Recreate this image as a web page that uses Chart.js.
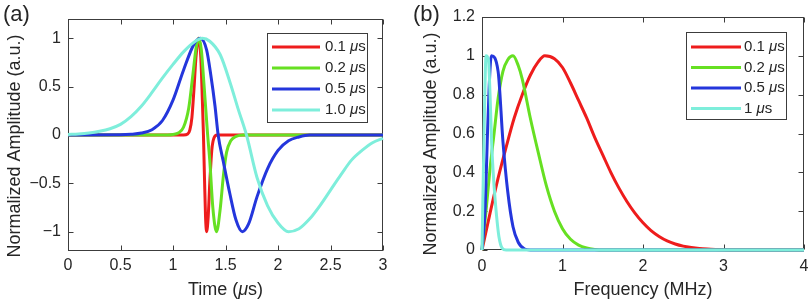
<!DOCTYPE html>
<html>
<head>
<meta charset="utf-8">
<script src="https://cdn.jsdelivr.net/npm/chart.js@4.4.1/dist/chart.umd.min.js"></script>
<style>
html, body { margin: 0; padding: 0; background: #fff; }
#wrap { position: relative; width: 812px; height: 302px; }
#wrap canvas { position: absolute; top: 0; }
</style>
</head>
<body>
<div id="wrap">
  <canvas id="timeChart" width="406" height="302" style="left:0"></canvas>
  <canvas id="freqChart" width="406" height="302" style="left:406px"></canvas>
</div>
<script>
// legend labels and line colours (same order in both panels)
const timeLabels = ["0.1 μs", "0.2 μs", "0.5 μs", "1.0 μs"];
const freqLabels = ["0.1 μs", "0.2 μs", "0.5 μs", "1 μs"];
const lineColors = ["#ee1c1c", "#66e022", "#2436dc", "#7eeedb"];

// tick values
const timeTicks = [0, 0.5, 1, 1.5, 2, 2.5, 3];
const ampTicks = [-1, -0.5, 0, 0.5, 1];
const freqTicks = [0, 1, 2, 3, 4];
const specTicks = [0, 0.2, 0.4, 0.6, 0.8, 1, 1.2];

// (a) time traces (time in us, normalized amplitude)
const tRed = [0, 1.10, 1.14, 1.16, 1.18, 1.20, 1.22, 1.245, 1.265, 1.28, 1.29, 1.30, 1.31, 1.32, 1.335, 1.35, 1.37, 1.39, 1.42, 3.0];
const aRed = [0, 0, 0.01, 0.05, 0.18, 0.48, 0.82, 1.0, 0.8, 0.35, 0.0, -0.45, -0.85, -1.0, -0.85, -0.5, -0.15, -0.03, 0, 0];

const tGreen = [0, 0.95, 1.0, 1.05, 1.1, 1.15, 1.19, 1.22, 1.245, 1.27, 1.29, 1.31, 1.33, 1.35, 1.38, 1.415, 1.45, 1.48, 1.51, 1.55, 1.6, 1.67, 3.0];
const aGreen = [0, 0, 0.005, 0.02, 0.08, 0.28, 0.63, 0.9, 1.0, 0.88, 0.6, 0.3, 0.0, -0.26, -0.76, -1.0, -0.76, -0.42, -0.18, -0.06, -0.015, 0, 0];

const tBlue = [0, 0.5, 0.6, 0.7, 0.8, 0.9, 1.0, 1.1, 1.2, 1.26, 1.32, 1.36, 1.40, 1.43, 1.48, 1.54, 1.6, 1.66, 1.72, 1.8, 1.9, 2.0, 2.1, 2.2, 2.3, 3.0];
const aBlue = [0, 0.002, 0.007, 0.02, 0.055, 0.15, 0.36, 0.67, 0.94, 1.0, 0.88, 0.62, 0.3, 0.0, -0.28, -0.6, -0.88, -1.0, -0.92, -0.64, -0.35, -0.16, -0.06, -0.02, 0, 0];

const tCyan = [0, 0.1, 0.2, 0.3, 0.4, 0.5, 0.6, 0.7, 0.8, 0.9, 1.0, 1.1, 1.2, 1.28, 1.35, 1.45, 1.55, 1.62, 1.70, 1.8, 1.9, 2.0, 2.1, 2.2, 2.3, 2.4, 2.5, 2.6, 2.7, 2.8, 2.9, 3.0];
const aCyan = [0.005, 0.01, 0.02, 0.038, 0.065, 0.11, 0.19, 0.3, 0.44, 0.59, 0.73, 0.86, 0.96, 1.0, 0.97, 0.83, 0.52, 0.27, 0.0, -0.44, -0.73, -0.91, -1.0, -0.97, -0.87, -0.73, -0.57, -0.41, -0.26, -0.16, -0.08, -0.035];

// (b) spectra (frequency in MHz, normalized amplitude)
const fRed = [0, 0.1, 0.2, 0.3, 0.4, 0.5, 0.6, 0.7, 0.78, 0.9, 1.0, 1.1, 1.2, 1.3, 1.4, 1.5, 1.6, 1.7, 1.8, 1.9, 2.0, 2.1, 2.2, 2.3, 2.4, 2.5, 2.6, 2.7, 2.8, 2.9, 3.0, 3.2, 4];
const sRed = [0, 0.19, 0.37, 0.53, 0.68, 0.8, 0.9, 0.97, 1.0, 0.985, 0.94, 0.86, 0.77, 0.68, 0.58, 0.49, 0.4, 0.32, 0.25, 0.19, 0.14, 0.1, 0.07, 0.047, 0.031, 0.02, 0.013, 0.008, 0.005, 0.003, 0.0015, 0, 0];

const fGreen = [0, 0.05, 0.1, 0.15, 0.2, 0.26, 0.32, 0.385, 0.45, 0.5, 0.6, 0.7, 0.8, 0.9, 1.0, 1.1, 1.2, 1.3, 1.4, 1.5, 4];
const sGreen = [0, 0.2, 0.42, 0.6, 0.78, 0.92, 0.98, 1.0, 0.95, 0.88, 0.68, 0.5, 0.33, 0.2, 0.11, 0.055, 0.025, 0.01, 0.003, 0, 0];

const fBlue = [0, 0.04, 0.065, 0.09, 0.116, 0.2, 0.26, 0.32, 0.385, 0.45, 0.53, 0.6, 4];
const sBlue = [0, 0.22, 0.56, 0.85, 1.0, 0.92, 0.56, 0.3, 0.12, 0.04, 0.005, 0, 0];

const fCyan = [0, 0.03, 0.05, 0.08, 0.1, 0.12, 0.15, 0.18, 0.21, 0.25, 0.3, 4];
const sCyan = [0, 0.7, 1.0, 0.98, 0.8, 0.55, 0.33, 0.18, 0.07, 0.01, 0, 0];

const FONT = "'Liberation Sans', Arial, Helvetica, sans-serif";
const TEXT = "#262626";
const AXIS = "#3c3c3c";

const pts = (xs, ys) => xs.map((x, i) => ({x: x, y: ys[i]}));
const fmt = v => String(+v.toFixed(2)).replace("-", "−");

// text with an italic mu
function richText(ctx, str, x, y, size, align) {
    const normal = size + "px " + FONT;
    const italic = "italic " + normal;
    const segs = [];
    str.split("μ").forEach((p, i) => {
        if (i > 0) segs.push(["μ", italic]);
        if (p) segs.push([p, normal]);
    });
    let total = 0;
    segs.forEach(s => {
        ctx.font = s[1];
        s.push(ctx.measureText(s[0]).width);
        total += s[2];
    });
    let cx = align === "center" ? x - total / 2 : (align === "right" ? x - total : x);
    ctx.textAlign = "left";
    segs.forEach(s => {
        ctx.font = s[1];
        ctx.fillText(s[0], cx, y);
        cx += s[2];
    });
}

// MATLAB-style box, inward ticks, tick labels, titles and legend
const matlabLook = {
    id: "matlabLook",
    beforeDatasetsDraw(chart, args, opts) {
        const {ctx, chartArea: a, scales: {x, y}} = chart;
        ctx.save();
        ctx.strokeStyle = AXIS;
        ctx.lineWidth = 1;
        const l = Math.round(a.left) + 0.5, r = Math.round(a.right) - 0.5;
        const t = Math.round(a.top) + 0.5, b = Math.round(a.bottom) - 0.5;
        ctx.strokeRect(l, t, r - l, b - t);
        ctx.beginPath();
        x.ticks.forEach(tk => {
            const px = Math.round(x.getPixelForValue(tk.value)) + 0.5;
            ctx.moveTo(px, b); ctx.lineTo(px, b - 5);
            ctx.moveTo(px, t); ctx.lineTo(px, t + 5);
        });
        y.ticks.forEach(tk => {
            const py = Math.round(y.getPixelForValue(tk.value)) + 0.5;
            ctx.moveTo(l, py); ctx.lineTo(l + 5, py);
            ctx.moveTo(r, py); ctx.lineTo(r - 5, py);
        });
        ctx.stroke();

        // tick labels
        ctx.fillStyle = TEXT;
        ctx.font = "16px " + FONT;
        ctx.textBaseline = "middle";
        ctx.textAlign = "center";
        x.ticks.forEach(tk => ctx.fillText(fmt(tk.value), x.getPixelForValue(tk.value), opts.xLabelY));
        ctx.textAlign = "right";
        y.ticks.forEach(tk => ctx.fillText(fmt(tk.value), a.left - 7, y.getPixelForValue(tk.value)));
        ctx.restore();
    },
    afterDraw(chart, args, opts) {
        const {ctx, chartArea: a} = chart;
        ctx.save();
        ctx.fillStyle = TEXT;
        ctx.textBaseline = "middle";

        // panel letter
        ctx.font = "22px " + FONT;
        ctx.textAlign = "left";
        ctx.fillText(opts.panel, opts.panelX, 15);

        // axis titles
        richText(ctx, opts.xTitle, (a.left + a.right) / 2, 290, 18, "center");
        ctx.save();
        ctx.translate(opts.yTitleX, opts.yTitleY);
        ctx.rotate(-Math.PI / 2);
        richText(ctx, opts.yTitle, 0, 0, 18, "center");
        ctx.restore();

        // legend box
        const L = opts.legend;
        ctx.fillStyle = "#fff";
        ctx.fillRect(L.x, L.y, L.w, L.h);
        ctx.strokeStyle = AXIS;
        ctx.lineWidth = 1;
        ctx.strokeRect(L.x + 0.5, L.y + 0.5, L.w, L.h);
        chart.data.datasets.forEach((ds, i) => {
            const ry = L.y + L.first + i * L.step;
            ctx.strokeStyle = ds.borderColor;
            ctx.lineWidth = 3;
            ctx.beginPath();
            ctx.moveTo(L.x + 5, ry);
            ctx.lineTo(L.x + L.lineLen, ry);
            ctx.stroke();
            ctx.fillStyle = TEXT;
            richText(ctx, ds.label, L.x + L.textAt, ry, 15, "left");
        });
        ctx.restore();
    }
};

function makeDatasets(labels, series) {
    return series.map((data, i) => ({
        label: labels[i],
        data: data,
        borderColor: lineColors[i],
        borderWidth: 3,
        pointRadius: 0,
        fill: false,
        cubicInterpolationMode: "monotone",
        clip: 4,
        order: series.length - i
    }));
}

function axis(min, max, tickList, afterFit) {
    return {
        type: "linear",
        min: min,
        max: max,
        afterBuildTicks: scale => { scale.ticks = tickList.map(v => ({value: v})); },
        afterFit: afterFit,
        grid: {display: false},
        border: {display: false},
        ticks: {display: false}
    };
}

new Chart(document.getElementById("timeChart"), {
    type: "line",
    data: {
        datasets: makeDatasets(timeLabels, [
            pts(tRed, aRed), pts(tGreen, aGreen), pts(tBlue, aBlue), pts(tCyan, aCyan)
        ])
    },
    options: {
        responsive: false,
        animation: false,
        events: [],
        layout: {padding: {left: 0, top: 19, right: 23, bottom: 0}},
        scales: {
            x: axis(0, 3, timeTicks, s => { s.height = 51; }),
            y: axis(-1.2, 1.2, ampTicks, s => { s.width = 68; })
        },
        plugins: {
            legend: {display: false},
            tooltip: {enabled: false},
            matlabLook: {
                panel: "(a)", panelX: 3,
                xTitle: "Time (μs)",
                yTitle: "Normalized Amplitude (a.u.)",
                yTitleX: 15, yTitleY: 146,
                xLabelY: 266,
                legend: {x: 267, y: 33, w: 100, h: 89, first: 14, step: 21, lineLen: 53, textAt: 58}
            }
        }
    },
    plugins: [matlabLook]
});

new Chart(document.getElementById("freqChart"), {
    type: "line",
    data: {
        datasets: makeDatasets(freqLabels, [
            pts(fRed, sRed), pts(fGreen, sGreen), pts(fBlue, sBlue), pts(fCyan, sCyan)
        ])
    },
    options: {
        responsive: false,
        animation: false,
        events: [],
        layout: {padding: {left: 0, top: 17, right: 8, bottom: 0}},
        scales: {
            x: axis(0, 4, freqTicks, s => { s.height = 52; }),
            y: axis(0, 1.2, specTicks, s => { s.width = 76; })
        },
        plugins: {
            legend: {display: false},
            tooltip: {enabled: false},
            matlabLook: {
                panel: "(b)", panelX: 7,
                xTitle: "Frequency (MHz)",
                yTitle: "Normalized Amplitude (a.u.)",
                yTitleX: 25, yTitleY: 144,
                xLabelY: 267,
                legend: {x: 280, y: 32, w: 100, h: 87, first: 15, step: 20.5, lineLen: 55, textAt: 58}
            }
        }
    },
    plugins: [matlabLook]
});
</script>
</body>
</html>
